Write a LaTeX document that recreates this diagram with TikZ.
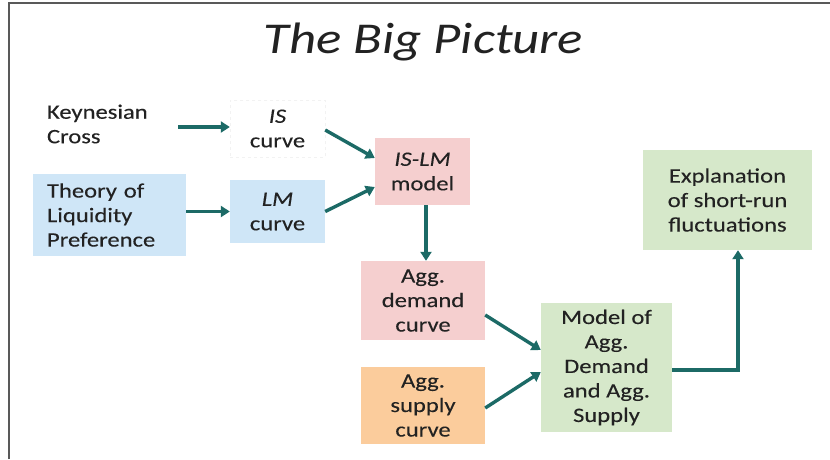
\documentclass[tikz,border=0pt]{standalone}
\usepackage{fontspec}
\setmainfont{Carlito}[FakeStretch=1.2]
\newfontfamily\boxfont{Carlito}[FakeStretch=1.2,FakeBold=0.2]
\usetikzlibrary{arrows.meta,calc}
\definecolor{arr}{HTML}{1C6A66}
\definecolor{bluebox}{HTML}{CFE6F7}
\definecolor{pinkbox}{HTML}{F5CFCF}
\definecolor{orangebox}{HTML}{FBCC9C}
\definecolor{greenbox}{HTML}{D6E8CA}
\definecolor{txt}{HTML}{222222}
\begin{document}
\begin{tikzpicture}[x=1pt,y=-1pt,
  box/.style={inner sep=0pt,align=center,text=txt,font=\boxfont\fontsize{20.5}{24.5}\selectfont},
  conn/.style={draw=arr,line width=3.4pt,-{Triangle[length=9pt,width=11pt]}}]
\useasboundingbox (0,0) rectangle (830,459);
\fill[white] (0,0) rectangle (830,459);
\draw[gray!70!black,line width=1.5pt] (9,459) -- (9,3) -- (830,3);
\node[anchor=base,text=txt,font=\fontsize{44}{50}\selectfont\itshape] (title) at (423.5,53) {The Big Picture};
\node[box,minimum width=153pt,minimum height=50pt,align=left,text width=125pt] (kc) at (109.5,124) {Keynesian\\Cross};
\node[box,fill=white,draw=black!5,dashed,minimum width=95pt,minimum height=57pt] (is) at (277.5,128.5) {\textit{IS}\\curve};
\node[box,fill=bluebox,minimum width=153pt,minimum height=82pt,align=left,text width=125pt] (tlp) at (109.5,215) {Theory of\\Liquidity\\Preference};
\node[box,fill=bluebox,minimum width=95pt,minimum height=63pt] (lm) at (277.5,211.5) {\textit{LM}\\curve};
\node[box,fill=pinkbox,minimum width=95pt,minimum height=67pt] (islm) at (422.5,171.5) {\textit{IS-LM}\\model};
\node[box,fill=pinkbox,minimum width=124pt,minimum height=79pt] (ad) at (423,300.5) {Agg.\\demand\\curve};
\node[box,fill=orangebox,minimum width=124pt,minimum height=77pt] (as) at (423,405.5) {Agg.\\supply\\curve};
\node[box,fill=greenbox,minimum width=131pt,minimum height=129pt] (mod) at (606.5,367.5) {Model of\\Agg.\\Demand\\and Agg.\\Supply};
\node[box,fill=greenbox,minimum width=169pt,minimum height=100pt] (expl) at (727.5,200) {Explanation\\of short-run\\fluctuations};
\draw[conn] ($(kc.east)+(-8,3)$) -- ($(is.west)+(0,-1.5)$);
\draw[conn] (tlp.east |- lm.east) -- (lm.west);
\draw[conn] ($(is.east)+(0,1.5)$) -- ($(islm.west)+(0,-13.5)$);
\draw[conn] (lm.east) -- ($(islm.west)+(0,15.5)$);
\draw[conn] ($(islm.south)+(3.5,0)$) -- ($(ad.north)+(3,0)$);
\draw[conn] ($(ad.east)+(0,14.5)$) -- ($(mod.west)+(0,-17.5)$);
\draw[conn] ($(as.east)+(0,2.5)$) -- ($(mod.west)+(0,4.5)$);
\draw[conn,-] ($(mod.east)+(0,2.5)$) -| ($(expl.south)+(10.5,10)$);
\draw[conn] ($(expl.south)+(10.5,12)$) -- ($(expl.south)+(10.5,0)$);
\end{tikzpicture}
\end{document}
